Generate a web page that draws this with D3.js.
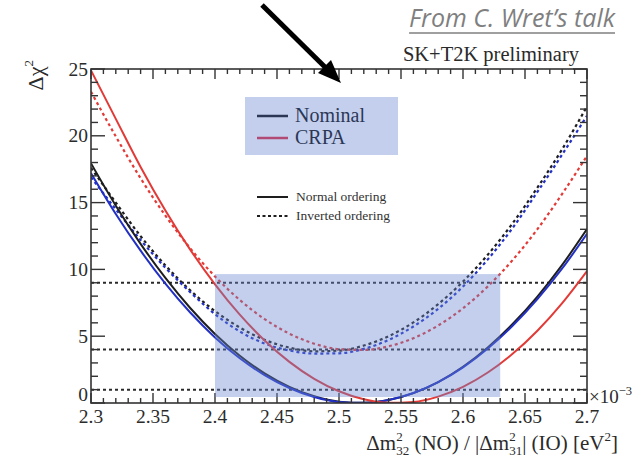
<!DOCTYPE html>
<html>
<head>
<meta charset="utf-8">
<script src="https://cdn.jsdelivr.net/npm/d3@7"></script>
<style>
  html, body { margin: 0; padding: 0; background: #fff; }
  svg { display: block; }
</style>
</head>
<body>
<svg id="chart" width="634" height="461"></svg>
<script>
// Δm² grid (eV² ×10⁻³) at which each Δχ² profile is sampled
const massGrid = [2.30, 2.32, 2.34, 2.36, 2.38, 2.40, 2.42, 2.44, 2.46, 2.48, 2.50,
                  2.52, 2.54, 2.56, 2.58, 2.60, 2.62, 2.64, 2.66, 2.68, 2.70];

// Normal ordering profiles
const nominalNO = [17.94, 14.77, 11.91, 9.36, 7.11, 5.17, 3.54, 2.22, 1.21, 0.50, 0.10,
                   0.01, 0.22, 0.74, 1.57, 2.71, 4.16, 5.91, 7.97, 10.34, 13.02];
const referenceNO = [17.2, 14.15, 11.40, 8.93, 6.77, 4.91, 3.35, 2.09, 1.12, 0.45, 0.08,
                     0.01, 0.23, 0.75, 1.56, 2.67, 4.08, 5.78, 7.78, 10.07, 12.66];
const crpaNO = [24.9, 21.27, 17.67, 14.41, 11.48, 8.88, 6.61, 4.68, 3.08, 1.81, 0.88,
                0.28, 0.01, 0.08, 0.48, 1.21, 2.28, 3.68, 5.41, 7.48, 9.88];

// Inverted ordering profiles
const nominalIO = [17.6, 15.0, 12.49, 10.30, 8.43, 6.88, 5.65, 4.73, 4.14, 3.87, 3.92,
                   4.30, 5.00, 6.03, 7.40, 9.09, 11.10, 13.45, 16.12, 19.0, 22.2];
const referenceIO = [16.9, 14.5, 12.2, 10.12, 8.30, 6.65, 5.35, 4.45, 3.93, 3.70, 3.72,
                     4.05, 4.72, 5.73, 7.05, 8.72, 10.75, 13.1, 15.8, 18.6, 21.5];
const crpaIO = [23.3, 19.95, 16.82, 14.03, 11.58, 9.47, 7.71, 6.28, 5.19, 4.44, 4.03,
                3.97, 4.24, 4.85, 5.80, 7.09, 8.73, 10.70, 13.01, 15.66, 18.5];

// Confidence levels drawn as horizontal dotted lines
const levels = [1, 4, 9];

// Axis ticks
const xMajorTicks = [2.3, 2.35, 2.4, 2.45, 2.5, 2.55, 2.6, 2.65, 2.7];
const xTickLabels = ["2.3", "2.35", "2.4", "2.45", "2.5", "2.55", "2.6", "2.65", "2.7"];
const yMajorTicks = [0, 5, 10, 15, 20, 25];
const yTickLabels = ["0", "5", "10", "15", "20", "25"];

// Highlighted Δm² window and Δχ² range
const windowX = [2.40, 2.63];
const windowY = [0.45, 9.65];

// Legend entries
const modelLegend = ["Nominal", "CRPA"];
const orderingLegend = ["Normal ordering", "Inverted ordering"];

const svg = d3.select("#chart");
const serif = "'Liberation Serif', 'DejaVu Serif', serif";

const plot = { left: 91, right: 587, top: 69, bottom: 403 };
const x = d3.scaleLinear().domain([2.3, 2.7]).range([plot.left, plot.right]);
const y = d3.scaleLinear().domain([0, 25]).range([plot.bottom, plot.top]);

const colBlack = "#1e1e1e", colBlue = "#2230c4", colRed = "#e23a36";
const overlayFill = "rgb(105,135,210)", overlayOpacity = 0.4;
const textCol = "#2b2b2b";

svg.append("defs").append("clipPath").attr("id", "plotClip")
  .append("rect")
  .attr("x", plot.left).attr("y", plot.top)
  .attr("width", plot.right - plot.left).attr("height", plot.bottom - plot.top);

// Confidence level lines
svg.append("g").selectAll("line").data(levels).join("line")
  .attr("x1", x(2.3)).attr("x2", x(2.7))
  .attr("y1", d => y(d)).attr("y2", d => y(d))
  .attr("stroke", "#2a2a2a").attr("stroke-width", 2)
  .attr("stroke-dasharray", "3,3");

// Profiles
const line = d3.line().curve(d3.curveMonotoneX)
  .x((d, i) => x(massGrid[i])).y(d => y(d));

const series = [
  { v: nominalIO, c: colBlack, dash: "3,3" },
  { v: referenceIO, c: colBlue, dash: "3,3" },
  { v: crpaIO, c: colRed, dash: "3,3" },
  { v: nominalNO, c: colBlack, dash: null },
  { v: referenceNO, c: colBlue, dash: null },
  { v: crpaNO, c: colRed, dash: null }
];
const curves = svg.append("g").attr("clip-path", "url(#plotClip)");
series.forEach(s => {
  curves.append("path")
    .attr("d", line(s.v))
    .attr("fill", "none")
    .attr("stroke", s.c)
    .attr("stroke-width", s.dash ? 2.2 : 2)
    .attr("stroke-dasharray", s.dash);
});

// Frame and ticks
const axisCol = "#333";
svg.append("rect")
  .attr("x", plot.left).attr("y", plot.top)
  .attr("width", plot.right - plot.left).attr("height", plot.bottom - plot.top)
  .attr("fill", "none").attr("stroke", axisCol).attr("stroke-width", 1.6);

const xMinor = d3.range(0, 41).map(i => 2.3 + i * 0.01);
const yMinor = d3.range(0, 26);
const ticks = svg.append("g").attr("stroke", axisCol).attr("stroke-width", 1.4);
xMinor.forEach((v, i) => {
  const len = i % 5 === 0 ? 10 : 5;
  ticks.append("line").attr("x1", x(v)).attr("x2", x(v))
    .attr("y1", plot.bottom).attr("y2", plot.bottom - len);
  ticks.append("line").attr("x1", x(v)).attr("x2", x(v))
    .attr("y1", plot.top).attr("y2", plot.top + len);
});
yMinor.forEach(v => {
  const len = v % 5 === 0 ? 14 : 7;
  ticks.append("line").attr("y1", y(v)).attr("y2", y(v))
    .attr("x1", plot.left).attr("x2", plot.left + len);
  ticks.append("line").attr("y1", y(v)).attr("y2", y(v))
    .attr("x1", plot.right).attr("x2", plot.right - len);
});

// Tick labels
svg.append("g").selectAll("text").data(xMajorTicks).join("text")
  .attr("x", d => x(d)).attr("y", plot.bottom + 20)
  .attr("text-anchor", "middle")
  .attr("font-family", serif).attr("font-size", 19.5).attr("fill", textCol)
  .text((d, i) => xTickLabels[i]);
svg.append("g").selectAll("text").data(yMajorTicks).join("text")
  .attr("x", plot.left - 3).attr("y", d => Math.min(y(d) + 6.5, plot.bottom - 2))
  .attr("text-anchor", "end")
  .attr("font-family", serif).attr("font-size", 19.5).attr("fill", textCol)
  .text((d, i) => yTickLabels[i]);

// ×10⁻³ exponent
const expo = svg.append("text").attr("x", 589).attr("y", 403)
  .attr("font-family", serif).attr("font-size", 19).attr("fill", textCol);
expo.append("tspan").text("×10");
expo.append("tspan").attr("dy", -8).attr("font-size", 12.5).text("−3");

// Axis titles
const xt = svg.append("text").attr("x", 618).attr("y", 450)
  .attr("text-anchor", "end")
  .attr("font-family", serif).attr("font-size", 21).attr("fill", textCol);
xt.append("tspan").text("Δm");
xt.append("tspan").attr("font-size", 13).attr("dy", -9).text("2");
xt.append("tspan").attr("font-size", 13).attr("dx", -6.5).attr("dy", 14).text("32");
xt.append("tspan").attr("dy", -5).text(" (NO) / |Δm");
xt.append("tspan").attr("font-size", 13).attr("dy", -9).text("2");
xt.append("tspan").attr("font-size", 13).attr("dx", -6.5).attr("dy", 14).text("31");
xt.append("tspan").attr("dy", -5).text("| (IO) [eV");
xt.append("tspan").attr("font-size", 13).attr("dy", -9).text("2");
xt.append("tspan").attr("dy", 9).text("]");

const yt = svg.append("text")
  .attr("transform", "translate(43,60) rotate(-90)")
  .attr("text-anchor", "end")
  .attr("font-family", serif).attr("font-size", 22).attr("fill", textCol);
yt.append("tspan").text("Δχ");
yt.append("tspan").attr("font-size", 13).attr("dy", -10).text("2");

// Header labels
svg.append("text").attr("x", 579).attr("y", 61).attr("text-anchor", "end")
  .attr("font-family", serif).attr("font-size", 20.5).attr("fill", "#2a2a2a")
  .text("SK+T2K preliminary");

const credit = svg.append("text").attr("x", 615).attr("y", 27).attr("text-anchor", "end")
  .attr("font-family", "'Open Sans', 'Noto Sans', sans-serif")
  .attr("font-style", "italic").attr("font-size", 25).attr("fill", "#7f7f7f")
  .text("From C. Wret’s talk");
const cw = credit.node().getComputedTextLength();
svg.append("line").attr("x1", 615 - cw).attr("x2", 615).attr("y1", 33).attr("y2", 33)
  .attr("stroke", "#7f7f7f").attr("stroke-width", 1.6);

// Pointer arrow
svg.append("line").attr("x1", 262).attr("y1", 5).attr("x2", 330).attr("y2", 72)
  .attr("stroke", "#000").attr("stroke-width", 5);
svg.append("path").attr("d", "M341,83 L318,73 L331,60 Z").attr("fill", "#000");

// Ordering legend
const ol = svg.append("g");
orderingLegend.forEach((t, i) => {
  const yy = 197 + i * 19;
  ol.append("line").attr("x1", 257).attr("x2", 288).attr("y1", yy).attr("y2", yy)
    .attr("stroke", colBlack).attr("stroke-width", 2)
    .attr("stroke-dasharray", i === 1 ? "3,2.5" : null);
  ol.append("text").attr("x", 296).attr("y", yy + 4)
    .attr("font-family", serif).attr("font-size", 13.5).attr("fill", "#333").text(t);
});

// Model legend (drawn in black/red, tinted by the overlay panel above it)
const ml = svg.append("g");
modelLegend.forEach((t, i) => {
  const yy = 116 + i * 22;
  ml.append("line").attr("x1", 257).attr("x2", 288).attr("y1", yy).attr("y2", yy)
    .attr("stroke", i === 0 ? "#000" : "#e2243a").attr("stroke-width", 2.5);
  ml.append("text").attr("x", 295).attr("y", yy + 6)
    .attr("font-family", serif).attr("font-size", 20).attr("fill", "#000").text(t);
});

// Translucent highlight panels
svg.append("rect").attr("x", 245).attr("y", 97).attr("width", 153).attr("height", 58)
  .attr("fill", overlayFill).attr("fill-opacity", overlayOpacity);
svg.append("rect")
  .attr("x", x(windowX[0])).attr("y", y(windowY[1]))
  .attr("width", x(windowX[1]) - x(windowX[0]))
  .attr("height", y(windowY[0]) - y(windowY[1]))
  .attr("fill", overlayFill).attr("fill-opacity", overlayOpacity);
</script>
</body>
</html>
